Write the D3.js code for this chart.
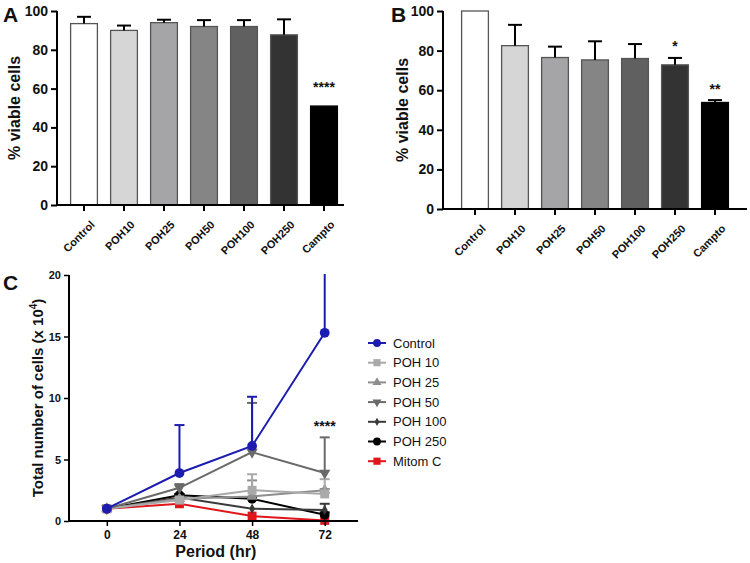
<!DOCTYPE html>
<html><head><meta charset="utf-8">
<script src="https://cdn.jsdelivr.net/npm/d3@7"></script>
<style>body{margin:0;background:#fff}svg{display:block}text{font-family:Arial,"Liberation Sans",sans-serif}</style>
</head><body>
<svg id="c" width="750" height="563"></svg>
<script>
const categories = ["Control","POH10","POH25","POH50","POH100","POH250","Campto"];
const barColors = ["#ffffff","#d6d6d6","#a5a5a7","#858585","#606060","#333333","#000000"];
const valuesA = [93.5, 90, 94, 92, 92, 87.7, 51];
const errTopA = [97, 92.5, 95.5, 95.3, 95.3, 95.7, 51];
const sigA = ["", "", "", "", "", "", "****"];
const valuesB = [100, 82.5, 76.5, 75.3, 76, 72.8, 53.8];
const errTopB = [100, 93, 82, 84.7, 83.3, 76.3, 55];
const sigB = ["", "", "", "", "", "*", "**"];
const barTicks = [0, 20, 40, 60, 80, 100];

const hours = [0, 24, 48, 72];
const seriesNames = ["Control","POH 10","POH 25","POH 50","POH 100","POH 250","Mitom C"];
const seriesColors = ["#1c1cb0","#a9a9a9","#8e8e8e","#6a6a6a","#3a3a3a","#000000","#e0161a"];
const seriesSymbols = ["circle","square","triangle","triangleDown","diamond","circle","square"];
const control = [1, 3.9, 6.1, 15.3];
const poh10 = [1, 1.7, 2.5, 2.2];
const poh25 = [1, 1.8, 2.0, 2.5];
const poh50 = [1, 2.7, 5.6, 3.9];
const poh100 = [1, 1.9, 1.0, 0.9];
const poh250 = [1, 2.1, 1.8, 0.5];
const mitomC = [1, 1.4, 0.4, 0.05];
const errControl = [1, 7.8, 10.1, 21];
const errPoh10 = [1, 1.9, 3.8, 3.4];
const errPoh25 = [1, 1.9, 3.3, 2.6];
const errPoh50 = [1, 3.0, 9.6, 6.8];
const errPoh100 = [1, 2.0, 1.0, 1.4];
const errPoh250 = [1, 2.2, 1.9, 0.7];
const errMitom = [1, 2.2, 0.4, 0.05];
const lineTicksY = [0, 5, 10, 15, 20];

const svg = d3.select("#c");
const bold = "bold";

function barPanel(opts) {
  const g = svg.append("g");
  const y = d3.scaleLinear().domain([0, 100]).range([opts.y0, opts.y1]);
  const x = d3.scaleBand().domain(categories).range(opts.xr).paddingInner(0.33).paddingOuter(0.165);
  // bars
  g.selectAll("rect.bar").data(categories).join("rect")
    .attr("x", d => x(d)).attr("width", x.bandwidth())
    .attr("y", (d,i) => y(opts.values[i])).attr("height", (d,i) => y(0) - y(opts.values[i]))
    .attr("fill", (d,i) => barColors[i])
    .attr("stroke", (d,i) => i === 6 ? "#000" : "#555").attr("stroke-width", 1.3);
  // error bars
  categories.forEach((c,i) => {
    if (opts.err[i] <= opts.values[i]) return;
    const cx = x(c) + x.bandwidth()/2;
    g.append("line").attr("x1",cx).attr("x2",cx).attr("y1",y(opts.values[i])).attr("y2",y(opts.err[i])).attr("stroke","#000").attr("stroke-width",2);
    g.append("line").attr("x1",cx-7).attr("x2",cx+7).attr("y1",y(opts.err[i])).attr("y2",y(opts.err[i])).attr("stroke","#000").attr("stroke-width",2);
  });
  categories.forEach((c,i) => {
    if (!opts.sig[i]) return;
    g.append("text").attr("x", x(c)+x.bandwidth()/2).attr("y", y(opts.sigPos[i]))
      .attr("text-anchor","middle").attr("font-size",14).attr("font-weight",bold).attr("fill","#111").text(opts.sig[i]);
  });
  // y axis
  const ya = g.append("g").attr("transform",`translate(${opts.ax},0)`)
    .call(d3.axisLeft(y).tickValues(barTicks).tickSize(6).tickPadding(3));
  ya.select(".domain").attr("stroke-width",2).attr("d",`M0,${opts.y0}V${opts.y1}`);
  ya.selectAll(".tick line").attr("stroke-width",2);
  ya.selectAll("text").attr("font-size",14).attr("font-weight",bold).attr("fill","#111").style("font-family","Arial");
  // x axis
  const xa = g.append("g").attr("transform",`translate(0,${opts.y0})`)
    .call(d3.axisBottom(x).tickSize(6).tickSizeOuter(0));
  xa.select(".domain").attr("stroke-width",2).attr("d",`M${opts.ax},0H${opts.axEnd}`);
  xa.selectAll(".tick line").attr("stroke-width",2);
  xa.selectAll("text").attr("font-size",11).attr("font-weight",bold).attr("fill","#111")
    .attr("text-anchor","end").attr("dy",0).attr("transform","translate(5,14) rotate(-45)").style("font-family","Arial");
  // y label
  g.append("text").attr("transform",`translate(${opts.labX},${(opts.y0+opts.y1)/2}) rotate(-90)`)
    .attr("text-anchor","middle").attr("font-size",16).attr("font-weight",bold).attr("fill","#111").text("% viable cells");
  g.append("text").attr("x",opts.letX).attr("y",opts.letY).attr("font-size",21).attr("font-weight",bold).attr("fill","#111").text(opts.letter);
}

barPanel({values: valuesA, err: errTopA, sig: sigA, sigPos: [0,0,0,0,0,0,58], y0: 205, y1: 11, xr: [64,344], ax: 57, axEnd: 344, labX: 20, letX: 3, letY: 22, letter: "A"});
barPanel({values: valuesB, err: errTopB, sig: sigB, sigPos: [0,0,0,0,0,80,58], y0: 209, y1: 11, xr: [455,735], ax: 443, axEnd: 747, labX: 408, letX: 391, letY: 22, letter: "B"});

// Panel C
const gC = svg.append("g");
const xC = d3.scaleLinear().domain([-12.5, 83]).range([69, 358]);
const yC = d3.scaleLinear().domain([0, 20]).range([521, 275]);
const seriesVals = [control, poh10, poh25, poh50, poh100, poh250, mitomC];
const seriesErr = [errControl, errPoh10, errPoh25, errPoh50, errPoh100, errPoh250, errMitom];
const symMap = {circle: d3.symbolCircle, square: d3.symbolSquare, triangle: d3.symbolTriangle, triangleDown: d3.symbolTriangle, diamond: d3.symbolDiamond};
const symSize = {circle: 75, square: 80, triangle: 55, triangleDown: 55, diamond: 30};
function symPath(s){ return d3.symbol().type(symMap[s]).size(symSize[s])(); }
const clip = svg.append("defs").append("clipPath").attr("id","clipC").append("rect").attr("x",60).attr("y",274).attr("width",310).attr("height",260);
const plot = gC.append("g").attr("clip-path","url(#clipC)");
const line = d3.line().x((d,i) => xC(hours[i])).y(d => yC(d));
const order = [6,5,4,2,1,3,0];
order.forEach(k => {
  const col = seriesColors[k];
  const vals = seriesVals[k], err = seriesErr[k];
  hours.forEach((h,i) => {
    if (err[i] <= vals[i] + 0.05) return;
    const cx = xC(h);
    plot.append("line").attr("x1",cx).attr("x2",cx).attr("y1",yC(vals[i])).attr("y2",yC(err[i])).attr("stroke",col).attr("stroke-width",2);
    plot.append("line").attr("x1",cx-5).attr("x2",cx+5).attr("y1",yC(err[i])).attr("y2",yC(err[i])).attr("stroke",col).attr("stroke-width",2);
  });
  plot.append("path").datum(vals).attr("d",line).attr("fill","none").attr("stroke",col).attr("stroke-width",2);
  plot.selectAll(null).data(vals).join("path")
    .attr("d", symPath(seriesSymbols[k]))
    .attr("transform",(d,i) => `translate(${xC(hours[i])},${yC(d)})${seriesSymbols[k]==="triangleDown"?" rotate(180)":""}`)
    .attr("fill",col);
});
gC.append("text").attr("x",xC(72)).attr("y",yC(7.3)).attr("text-anchor","middle").attr("font-size",14).attr("font-weight",bold).attr("fill","#111").text("****");
const yaC = gC.append("g").attr("transform","translate(69,0)").call(d3.axisLeft(yC).tickValues(lineTicksY).tickSize(5).tickPadding(3));
yaC.select(".domain").attr("stroke-width",2).attr("d","M0,521V275");
yaC.selectAll(".tick line").attr("stroke-width",1.5);
yaC.selectAll("text").attr("font-size",11).attr("font-weight",bold).attr("fill","#111").style("font-family","Arial");
const xaC = gC.append("g").attr("transform","translate(0,521)").call(d3.axisBottom(xC).tickValues(hours).tickSize(5).tickPadding(4));
xaC.select(".domain").attr("stroke-width",2).attr("d","M69,0H358");
xaC.selectAll(".tick line").attr("stroke-width",1.5);
xaC.selectAll("text").attr("font-size",12).attr("font-weight",bold).attr("fill","#111").style("font-family","Arial");
gC.append("text").attr("x",xC(36)).attr("y",557).attr("text-anchor","middle").attr("font-size",16).attr("font-weight",bold).attr("fill","#111").text("Period (hr)");
const yl = gC.append("text").attr("transform","translate(43,398) rotate(-90)").attr("text-anchor","middle").attr("font-size",15).attr("font-weight",bold).attr("fill","#111");
yl.append("tspan").text("Total number of cells (x 10");
yl.append("tspan").attr("font-size",10).attr("dy",-6).text("4");
yl.append("tspan").attr("dy",6).text(")");
gC.append("text").attr("x",3).attr("y",290).attr("font-size",21).attr("font-weight",bold).attr("fill","#111").text("C");
// legend
const leg = gC.append("g");
seriesNames.forEach((n,k) => {
  const ly = 343 + k*19.7;
  leg.append("line").attr("x1",368).attr("x2",386).attr("y1",ly).attr("y2",ly).attr("stroke",seriesColors[k]).attr("stroke-width",2);
  leg.append("path").attr("d",symPath(seriesSymbols[k])).attr("transform",`translate(377,${ly})${seriesSymbols[k]==="triangleDown"?" rotate(180)":""} scale(0.8)`).attr("fill",seriesColors[k]);
  leg.append("text").attr("x",393).attr("y",ly+4.5).attr("font-size",13).attr("fill","#111").text(n);
});
</script>
</body></html>
